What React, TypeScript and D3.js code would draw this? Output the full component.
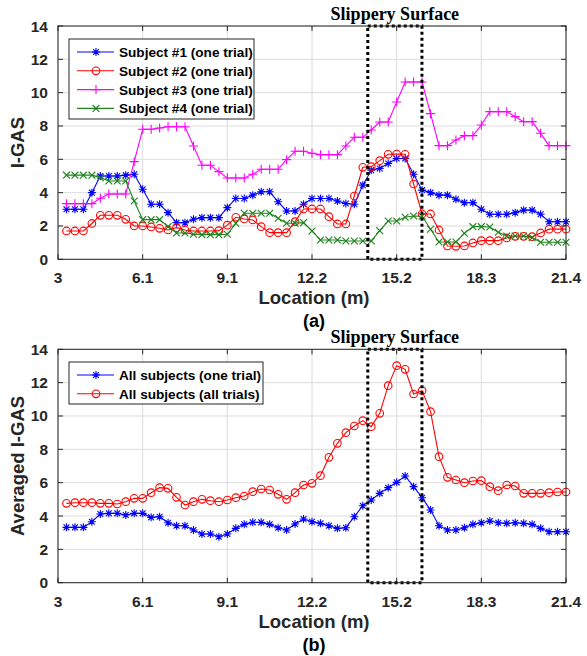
import React, { useEffect, useRef } from 'react';
import * as d3 from 'd3';

// sample locations: every foot from 11 ft to 70 ft, shown in metres
const locationFt = d3.range(11, 71);
const locationM = locationFt.map(f => f * 0.3048);

const tickFt = [10, 20, 30, 40, 50, 60, 70];
const tickLabels = ['3', '6.1', '9.1', '12.2', '15.2', '18.3', '21.4'];
const yTicks = [0, 2, 4, 6, 8, 10, 12, 14];
const slipperyRange = [14.2, 16.15];

const subject1 = [3.0, 3.0, 3.0, 4.0, 5.0, 5.0, 5.0, 5.05, 5.1, 4.2, 3.3, 3.3, 2.8, 2.2, 2.2, 2.4, 2.5, 2.5, 2.5, 3.1, 3.65, 3.65, 3.85, 4.05, 4.05, 3.45, 2.9, 2.9, 3.3, 3.65, 3.65, 3.65, 3.5, 3.35, 3.3, 4.45, 5.35, 5.45, 5.75, 6.05, 6.05, 5.1, 4.15, 4.0, 3.85, 3.85, 3.6, 3.4, 3.4, 3.0, 2.7, 2.7, 2.7, 2.8, 2.95, 2.95, 2.7, 2.25, 2.25, 2.25];
const subject2 = [1.7, 1.7, 1.7, 2.15, 2.64, 2.64, 2.64, 2.4, 2.0, 2.0, 1.94, 1.86, 1.76, 1.9, 1.76, 1.7, 1.7, 1.7, 1.72, 2.05, 2.52, 2.42, 2.36, 1.96, 1.6, 1.6, 1.6, 2.26, 3.02, 3.02, 3.02, 2.56, 2.12, 2.12, 3.8, 5.52, 5.56, 5.92, 6.3, 6.32, 6.3, 4.52, 2.72, 2.72, 1.76, 0.8, 0.78, 0.8, 0.98, 1.12, 1.12, 1.12, 1.28, 1.38, 1.38, 1.36, 1.58, 1.81, 1.81, 1.81];
const subject3 = [3.34, 3.34, 3.34, 3.34, 3.66, 3.92, 3.92, 3.92, 5.86, 7.8, 7.8, 7.88, 7.95, 7.95, 7.95, 6.8, 5.64, 5.64, 5.26, 4.88, 4.88, 4.88, 5.1, 5.4, 5.4, 5.4, 5.98, 6.48, 6.48, 6.36, 6.28, 6.28, 6.28, 6.8, 7.32, 7.32, 7.76, 8.24, 8.24, 9.44, 10.64, 10.64, 10.64, 8.74, 6.82, 6.82, 7.16, 7.42, 7.42, 8.06, 8.86, 8.86, 8.86, 8.56, 8.26, 8.26, 7.56, 6.82, 6.82, 6.82];
const subject4 = [5.05, 5.05, 5.05, 5.05, 4.9, 4.7, 4.7, 4.7, 3.5, 2.38, 2.38, 2.38, 1.96, 1.58, 1.58, 1.5, 1.48, 1.48, 1.48, 1.5, 2.16, 2.76, 2.76, 2.76, 2.76, 2.46, 2.16, 2.16, 2.2, 1.7, 1.16, 1.16, 1.16, 1.1, 1.1, 1.1, 1.1, 1.72, 2.3, 2.3, 2.52, 2.6, 2.58, 1.8, 1.04, 1.04, 1.04, 1.56, 1.96, 1.96, 1.94, 1.62, 1.4, 1.4, 1.4, 1.3, 1.02, 1.02, 1.02, 1.02];

const allOneTrial = [3.32, 3.32, 3.32, 3.66, 4.12, 4.16, 4.16, 4.06, 4.16, 4.16, 3.92, 3.96, 3.6, 3.42, 3.42, 3.16, 2.92, 2.92, 2.76, 2.92, 3.26, 3.5, 3.62, 3.62, 3.5, 3.3, 3.16, 3.52, 3.82, 3.66, 3.56, 3.42, 3.26, 3.3, 3.96, 4.62, 4.96, 5.36, 5.7, 6.02, 6.4, 5.76, 5.1, 4.36, 3.42, 3.16, 3.16, 3.3, 3.5, 3.6, 3.7, 3.6, 3.56, 3.6, 3.56, 3.5, 3.26, 3.06, 3.06, 3.06];
const allTrials = [4.76, 4.8, 4.8, 4.8, 4.76, 4.76, 4.72, 4.86, 5.06, 5.06, 5.4, 5.7, 5.66, 5.12, 4.66, 4.86, 5.0, 4.92, 4.86, 4.96, 5.1, 5.2, 5.46, 5.62, 5.56, 5.3, 5.0, 5.4, 5.86, 5.96, 6.42, 7.52, 8.36, 9.0, 9.4, 9.72, 9.36, 10.16, 11.82, 13.02, 12.8, 11.32, 11.52, 10.26, 7.56, 6.32, 6.16, 6.0, 6.1, 6.12, 5.76, 5.52, 5.86, 5.8, 5.36, 5.36, 5.36, 5.4, 5.44, 5.44];

const markerPaths = {
  star: 'M-4,0H4M0,-4V4M-2.9,-2.9L2.9,2.9M-2.9,2.9L2.9,-2.9',
  plus: 'M-4.5,0H4.5M0,-4.5V4.5',
  cross: 'M-3.4,-3.4L3.4,3.4M-3.4,3.4L3.4,-3.4',
};

const panelA = {
  top: 26, bottom: 259.3, yLabel: 'I-GAS', tag: '(a)',
  legend: { x: 69, y: 39, w: 185, h: 80 },
  series: [
    { name: 'Subject #1 (one trial)', values: subject1, color: '#0000ff', marker: 'star' },
    { name: 'Subject #2 (one trial)', values: subject2, color: '#ff0000', marker: 'circle' },
    { name: 'Subject #3 (one trial)', values: subject3, color: '#ff00ff', marker: 'plus' },
    { name: 'Subject #4 (one trial)', values: subject4, color: '#1e821e', marker: 'cross' },
  ],
};

const panelB = {
  top: 349.3, bottom: 582.7, yLabel: 'Averaged I-GAS', tag: '(b)',
  legend: { x: 69, y: 362, w: 194, h: 42 },
  series: [
    { name: 'All subjects (one trial)', values: allOneTrial, color: '#0000ff', marker: 'star' },
    { name: 'All subjects (all trials)', values: allTrials, color: '#ff0000', marker: 'circle' },
  ],
};

const left = 58;
const right = 566;
const sans = 'Liberation Sans, Arial, sans-serif';

const drawMarker = (g, marker, x, y, color) => {
  if (marker === 'circle') {
    g.append('circle').attr('cx', x).attr('cy', y).attr('r', 3.8)
      .attr('fill', 'none').attr('stroke', color).attr('stroke-width', 1.1);
  } else {
    g.append('path').attr('d', markerPaths[marker])
      .attr('transform', `translate(${x},${y})`)
      .attr('fill', 'none').attr('stroke', color).attr('stroke-width', 1.1);
  }
};

const drawPanel = (svg, panel) => {
  const x = d3.scaleLinear().domain([10 * 0.3048, 70 * 0.3048]).range([left, right]);
  const y = d3.scaleLinear().domain([0, 14]).range([panel.bottom, panel.top]);
  const tickM = tickFt.map(f => f * 0.3048);

  const g = svg.append('g');

  // grid
  g.append('g').selectAll('line').data(tickM).join('line')
    .attr('x1', d => x(d)).attr('x2', d => x(d))
    .attr('y1', panel.top).attr('y2', panel.bottom)
    .attr('stroke', '#dcdcdc').attr('stroke-width', 1);
  g.append('g').selectAll('line').data(yTicks).join('line')
    .attr('x1', left).attr('x2', right)
    .attr('y1', d => y(d)).attr('y2', d => y(d))
    .attr('stroke', '#dcdcdc').attr('stroke-width', 1);

  // series
  const line = d3.line().x((d, i) => x(locationM[i])).y(d => y(d));
  panel.series.forEach(s => {
    g.append('path').datum(s.values)
      .attr('fill', 'none').attr('stroke', s.color).attr('stroke-width', 1.1)
      .attr('d', line);
    const mg = g.append('g');
    s.values.forEach((v, i) => drawMarker(mg, s.marker, x(locationM[i]), y(v), s.color));
  });

  // slippery surface box
  g.append('rect')
    .attr('x', x(slipperyRange[0])).attr('y', panel.top)
    .attr('width', x(slipperyRange[1]) - x(slipperyRange[0]))
    .attr('height', panel.bottom - panel.top)
    .attr('fill', 'none').attr('stroke', '#000').attr('stroke-width', 3)
    .attr('stroke-dasharray', '3,3');
  g.append('text')
    .attr('x', (x(slipperyRange[0]) + x(slipperyRange[1])) / 2).attr('y', panel.top - 6)
    .attr('text-anchor', 'middle')
    .attr('font-family', 'Liberation Serif, Times New Roman, serif')
    .attr('font-weight', 'bold').attr('font-size', 18).text('Slippery Surface');

  // box and ticks
  g.append('rect').attr('x', left).attr('y', panel.top)
    .attr('width', right - left).attr('height', panel.bottom - panel.top)
    .attr('fill', 'none').attr('stroke', '#262626').attr('stroke-width', 1);
  tickM.forEach(t => {
    g.append('line').attr('x1', x(t)).attr('x2', x(t)).attr('y1', panel.bottom).attr('y2', panel.bottom - 5).attr('stroke', '#262626');
    g.append('line').attr('x1', x(t)).attr('x2', x(t)).attr('y1', panel.top).attr('y2', panel.top + 5).attr('stroke', '#262626');
  });
  yTicks.forEach(t => {
    g.append('line').attr('x1', left).attr('x2', left + 5).attr('y1', y(t)).attr('y2', y(t)).attr('stroke', '#262626');
    g.append('line').attr('x1', right).attr('x2', right - 5).attr('y1', y(t)).attr('y2', y(t)).attr('stroke', '#262626');
  });

  // tick labels
  g.append('g').selectAll('text').data(tickM).join('text')
    .attr('x', d => x(d)).attr('y', panel.bottom + 24)
    .attr('text-anchor', 'middle').attr('font-family', sans).attr('font-weight', 'bold')
    .attr('font-size', 15.5).attr('fill', '#262626')
    .text((d, i) => tickLabels[i]);
  g.append('g').selectAll('text').data(yTicks).join('text')
    .attr('x', left - 10).attr('y', d => y(d) + 5.5)
    .attr('text-anchor', 'end').attr('font-family', sans).attr('font-weight', 'bold')
    .attr('font-size', 15.5).attr('fill', '#262626')
    .text(d => d);

  // axis titles
  g.append('text').attr('x', (left + right) / 2 + 2).attr('y', panel.bottom + 45)
    .attr('text-anchor', 'middle').attr('font-family', sans).attr('font-weight', 'bold')
    .attr('font-size', 18.5).attr('fill', '#262626').text('Location (m)');
  g.append('text').attr('x', (left + right) / 2 + 2).attr('y', panel.bottom + 68)
    .attr('text-anchor', 'middle').attr('font-family', sans).attr('font-weight', 'bold')
    .attr('font-size', 18).attr('fill', '#000').text(panel.tag);
  g.append('text')
    .attr('transform', `translate(24,${(panel.top + panel.bottom) / 2}) rotate(-90)`)
    .attr('text-anchor', 'middle').attr('font-family', sans).attr('font-weight', 'bold')
    .attr('font-size', 18.5).attr('fill', '#262626').text(panel.yLabel);

  // legend
  const L = panel.legend;
  const lg = g.append('g');
  lg.append('rect').attr('x', L.x).attr('y', L.y).attr('width', L.w).attr('height', L.h)
    .attr('fill', '#fff').attr('stroke', '#262626').attr('stroke-width', 1);
  panel.series.forEach((s, i) => {
    const ly = L.y + 13 + i * 18.8;
    lg.append('line').attr('x1', L.x + 8).attr('x2', L.x + 45).attr('y1', ly).attr('y2', ly)
      .attr('stroke', s.color).attr('stroke-width', 1.1);
    drawMarker(lg, s.marker, L.x + 27, ly, s.color);
    lg.append('text').attr('x', L.x + 50).attr('y', ly + 5)
      .attr('font-family', sans).attr('font-weight', 'bold').attr('font-size', 13.6)
      .attr('fill', '#000').text(s.name);
  });
};

const App = () => {
  const ref = useRef(null);

  useEffect(() => {
    d3.select(ref.current).selectAll('*').remove();
    const svg = d3.select(ref.current);
    svg.append('rect').attr('width', 587).attr('height', 656).attr('fill', '#fff');
    drawPanel(svg, panelA);
    drawPanel(svg, panelB);
  }, []);

  return (
    <svg ref={ref} width={587} height={656}
      style={{ position: 'absolute', left: 0, top: 0, display: 'block' }} />
  );
};

export default App;
